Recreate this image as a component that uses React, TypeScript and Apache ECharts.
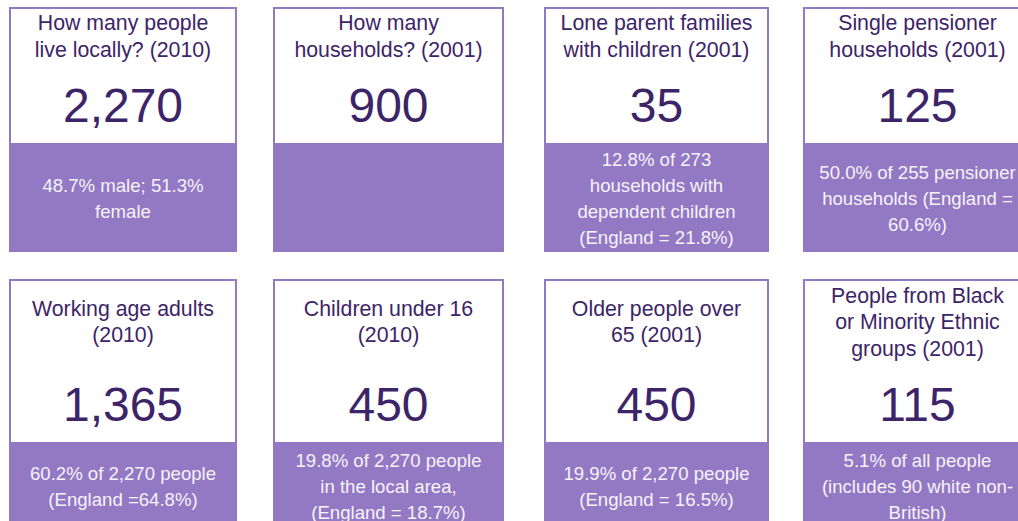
import React, { useEffect, useRef } from "react";
import * as echarts from "echarts";

// ---- Data ----
const titles: string[] = [
  "How many people\nlive locally? (2010)",
  "How many\nhouseholds? (2001)",
  "Lone parent families\nwith children (2001)",
  "Single pensioner\nhouseholds (2001)",
  "Working age adults\n(2010)",
  "Children under 16\n(2010)",
  "Older people over\n65 (2001)",
  "People from Black\nor Minority Ethnic\ngroups (2001)",
];

const values: string[] = ["2,270", "900", "35", "125", "1,365", "450", "450", "115"];

const notes: string[] = [
  "48.7% male; 51.3%\nfemale",
  "",
  "12.8% of 273\nhouseholds with\ndependent children\n(England = 21.8%)",
  "50.0% of 255 pensioner\nhouseholds (England =\n60.6%)",
  "60.2% of 2,270 people\n(England =64.8%)",
  "19.8% of 2,270 people\nin the local area,\n(England = 18.7%)",
  "19.9% of 2,270 people\n(England = 16.5%)",
  "5.1% of all people\n(includes 90 white non-\nBritish)",
];

// ---- Layout ----
const colLeft = [9, 273, 544, 803];
const colWidth = [228, 231, 225, 229];
const rows = [
  { top: 7, whiteBottom: 144, bottom: 252, titleY: 36.5, valueY: 105, noteY: 198.5 },
  { top: 279, whiteBottom: 443, bottom: 531, titleY: 322, valueY: 404, noteY: 486 },
];

const PURPLE = "#9378C4";
const DARK = "#3D2468";
const NOTE = "#F6F3FB";
const FONT = '"Liberation Sans", Arial, Helvetica, sans-serif';

export default function App() {
  const ref = useRef<HTMLDivElement>(null);

  useEffect(() => {
    if (!ref.current) return;
    const chart = echarts.init(ref.current, null, { renderer: "svg" });

    const elements: any[] = [];
    titles.forEach((title, i) => {
      const r = rows[Math.floor(i / 4)];
      const c = i % 4;
      const L = colLeft[c];
      const W = colWidth[c];
      const cx = L + W / 2;
      elements.push({
        type: "rect",
        shape: { x: L + 1, y: r.top + 1, width: W - 2, height: r.whiteBottom - r.top - 1 },
        style: { fill: "#ffffff", stroke: PURPLE, lineWidth: 2 },
      });
      elements.push({
        type: "rect",
        shape: { x: L, y: r.whiteBottom, width: W, height: r.bottom - r.whiteBottom },
        style: { fill: PURPLE },
      });
      elements.push({
        type: "text",
        x: cx,
        y: r.titleY,
        style: {
          text: title,
          align: "center",
          verticalAlign: "middle",
          font: `21.3px ${FONT}`,
          lineHeight: 26.5,
          fill: DARK,
        },
      });
      elements.push({
        type: "text",
        x: cx,
        y: r.valueY,
        style: {
          text: values[i],
          align: "center",
          verticalAlign: "middle",
          font: `48px ${FONT}`,
          fill: DARK,
        },
      });
      if (notes[i]) {
        elements.push({
          type: "text",
          x: cx,
          y: r.noteY,
          style: {
            text: notes[i],
            align: "center",
            verticalAlign: "middle",
            font: `18.6px ${FONT}`,
            lineHeight: 26,
            fill: NOTE,
          },
        });
      }
    });

    chart.setOption({
      animation: false,
      backgroundColor: "#ffffff",
      graphic: { elements },
    });

    return () => chart.dispose();
  }, []);

  return (
    <div
      ref={ref}
      style={{ position: "absolute", left: 0, top: 0, width: 1018, height: 521, overflow: "hidden" }}
    />
  );
}
